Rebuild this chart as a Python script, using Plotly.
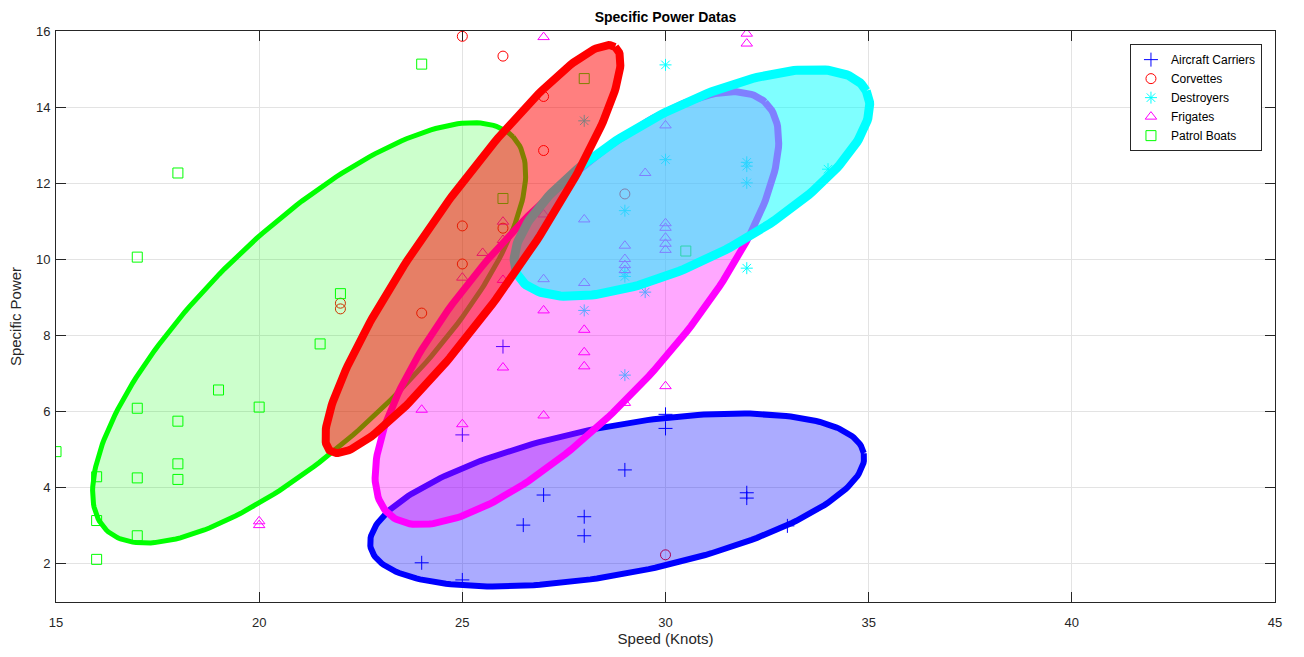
import numpy as np
import plotly.graph_objects as go

# ---- ship measurements: speed (knots) and specific power ----
carrier_speed = [24, 25, 25, 26, 26.5, 27, 28, 28, 29, 30, 30, 32, 32, 33]
carrier_power = [2.03, 1.58, 5.39, 7.71, 3.02, 3.81, 3.24, 2.74, 4.47, 5.56, 5.93, 3.87, 3.73, 3.0]

corvette_speed = [22, 22, 24, 25, 25, 25, 26, 26, 27, 27, 29, 30]
corvette_power = [8.85, 8.7, 8.59, 9.88, 10.88, 15.86, 15.34, 10.82, 14.28, 12.86, 11.72, 2.24]

destroyer_speed = [28, 28, 29, 29, 29, 29, 29.5, 30, 30, 32, 32, 32, 32, 34]
destroyer_power = [13.64, 8.66, 11.28, 6.96, 9.65, 9.55, 9.14, 15.11, 12.62, 12.55, 12.45, 12.01, 9.77, 12.37]

frigate_speed = [20, 20, 24, 25, 25, 25.5, 26, 26, 26, 26, 27, 27, 27, 27, 27,
                 28, 28, 28, 28, 28, 29, 29, 29, 29, 29, 29.5, 30, 30, 30, 30,
                 30, 30, 30, 32, 32]
frigate_power = [3.12, 3.02, 6.05, 5.67, 9.52, 10.17, 10.99, 10.51, 9.46, 7.16,
                 15.84, 11.18, 9.48, 8.66, 5.9, 11.05, 9.38, 8.15, 7.56, 7.19,
                 10.36, 10.01, 9.85, 9.72, 6.23, 12.27, 13.52, 10.95, 10.83,
                 10.57, 10.41, 10.25, 6.67, 15.93, 15.67]

patrol_speed = [15, 16, 16, 16, 17, 17, 17, 17, 18, 18, 18, 18, 19, 20, 21.5,
                22, 24, 26, 28, 30.5]
patrol_power = [4.95, 4.29, 3.14, 2.12, 10.06, 6.09, 4.26, 2.74, 12.27, 5.75,
                4.63, 4.22, 6.57, 6.12, 7.78, 9.1, 15.13, 11.6, 14.75, 10.22]

# ---- spread ellipse of each class: centre and two conjugate semi-axis vectors ----
ellipse_class = ["Patrol Boats", "Aircraft Carriers", "Frigates", "Destroyers", "Corvettes"]
ellipse_center_x = [21.23, 28.81, 27.82, 30.65, 25.26]
ellipse_center_y = [8.07, 3.68, 8.72, 12.01, 10.27]
ellipse_major_dx = [5.02, 6.07, 4.63, 4.29, 3.50]
ellipse_major_dy = [5.15, 1.23, 5.41, 2.42, 5.31]
ellipse_minor_dx = [1.79, -0.34, 1.80, 0.86, 0.97]
ellipse_minor_dy = [-1.99, 1.91, -1.75, -1.74, -0.72]

x_ticks = [15, 20, 25, 30, 35, 40, 45]
y_ticks = [2, 4, 6, 8, 10, 12, 14, 16]

# ---- styling ----
class_color = {
    "Aircraft Carriers": (0, 0, 255),
    "Corvettes": (255, 0, 0),
    "Destroyers": (0, 255, 255),
    "Frigates": (255, 0, 255),
    "Patrol Boats": (0, 255, 0),
}
class_symbol = {
    "Aircraft Carriers": "cross-thin-open",
    "Corvettes": "circle-open",
    "Destroyers": "asterisk-open",
    "Frigates": "triangle-up-open",
    "Patrol Boats": "square-open",
}
fill_alpha = {"Patrol Boats": 0.2, "Aircraft Carriers": 0.33, "Frigates": 0.34,
              "Destroyers": 0.5, "Corvettes": 0.5}
edge_width = {"Patrol Boats": 5, "Aircraft Carriers": 6, "Frigates": 7,
              "Destroyers": 9, "Corvettes": 8}


def rgb(c, a=1.0):
    return f"rgba({c[0]},{c[1]},{c[2]},{a})"


fig = go.Figure()

groups = [
    ("Aircraft Carriers", carrier_speed, carrier_power),
    ("Corvettes", corvette_speed, corvette_power),
    ("Destroyers", destroyer_speed, destroyer_power),
    ("Frigates", frigate_speed, frigate_power),
    ("Patrol Boats", patrol_speed, patrol_power),
]
for name, xs, ys in groups:
    col = class_color[name]
    fig.add_trace(go.Scatter(
        x=xs, y=ys, mode="markers", name=name,
        marker=dict(symbol=class_symbol[name], size=10, color=rgb(col),
                    line=dict(color=rgb(col), width=1)),
    ))

t = np.linspace(0, 2 * np.pi, 240)
for i, name in enumerate(ellipse_class):
    col = class_color[name]
    ex = ellipse_center_x[i] + ellipse_major_dx[i] * np.cos(t) + ellipse_minor_dx[i] * np.sin(t)
    ey = ellipse_center_y[i] + ellipse_major_dy[i] * np.cos(t) + ellipse_minor_dy[i] * np.sin(t)
    fig.add_trace(go.Scatter(
        x=ex, y=ey, mode="lines", fill="toself",
        fillcolor=rgb(col, fill_alpha[name]),
        line=dict(color=rgb(col), width=edge_width[name]),
        showlegend=False, hoverinfo="skip",
    ))

axis_color = "#262626"
font_family = "Liberation Sans, Arial, Helvetica, sans-serif"

axis_common = dict(
    showline=True, linecolor=axis_color, linewidth=1, mirror="ticks",
    ticks="inside", ticklen=10, tickcolor=axis_color, tickwidth=1,
    showgrid=True, gridcolor="#e3e3e3", gridwidth=1, zeroline=False,
    tickfont=dict(family=font_family, size=13, color=axis_color),
)

fig.update_layout(
    width=1304, height=657,
    margin=dict(l=56, r=29, t=31, b=55),
    paper_bgcolor="white", plot_bgcolor="white",
    font=dict(family=font_family, color=axis_color),
    title=dict(text="<b>Specific Power Datas</b>", x=(56 + 1275) / 2 / 1304,
               xanchor="center", y=1 - 17 / 657, yanchor="middle", yref="container",
               font=dict(family=font_family, size=14, color="black")),
    xaxis=dict(range=[15, 45], tickvals=x_ticks, ticklabelstandoff=8,
               title=dict(text="Speed (Knots)", font=dict(size=15, color=axis_color), standoff=4),
               **axis_common),
    yaxis=dict(range=[1, 16], tickvals=y_ticks, ticklabelstandoff=2,
               title=dict(text="Specific Power", font=dict(size=15, color=axis_color), standoff=10),
               **axis_common),
    legend=dict(x=0.9893, y=0.977, xanchor="right", yanchor="top",
                bgcolor="white", bordercolor=axis_color, borderwidth=1,
                font=dict(family=font_family, size=12, color="black"),
                tracegroupgap=0),
    showlegend=True,
)

fig.write_html("out.html")
